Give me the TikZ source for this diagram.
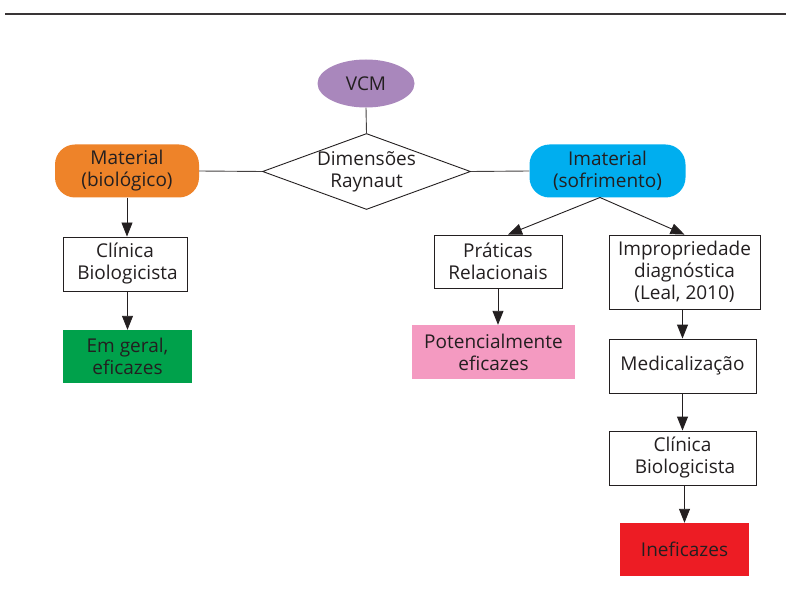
\documentclass[tikz,border=0pt]{standalone}
\usepackage{fontspec}
\setmainfont{Open Sans}
\usetikzlibrary{shapes.geometric,arrows.meta,calc}
\definecolor{ink}{HTML}{231F20}
\definecolor{cpurple}{HTML}{A987BC}
\definecolor{corange}{HTML}{EE8329}
\definecolor{ccyan}{HTML}{00AEEF}
\definecolor{cgreen}{HTML}{00A14B}
\definecolor{cpink}{HTML}{F49AC1}
\definecolor{cred}{HTML}{ED1C24}
\tikzset{
  txt/.style={font=\fontsize{19}{22}\selectfont, text=ink, align=center, inner sep=0pt},
  wbox/.style={txt, draw=ink, line width=0.9pt, fill=white},
  cbox/.style={txt},
  pill/.style={txt, rounded corners=20pt},
  conn/.style={draw=ink!85, line width=0.9pt},
  arr/.style={draw=ink, line width=0.9pt, -{Triangle[length=14pt,width=11pt]}},
}
\begin{document}
\begin{tikzpicture}[x=1pt,y=-1pt]
\useasboundingbox (0,0) rectangle (786,609);
\draw[draw=ink!90, line width=1.4pt] (5,14) -- (786,14);

\node[txt, ellipse, fill=cpurple, minimum width=97pt, minimum height=48pt] (vcm) at (366,83.5) {VCM};
\node[diamond, draw=ink, line width=0.9pt, fill=white, minimum width=208pt, minimum height=76pt, inner sep=0pt] (dim) at (366.5,171.5) {};
\node[txt] (dimtxt) at (366.5,171.5) {Dimensões\\Raynaut};
\node[pill, fill=corange, minimum width=144pt, minimum height=53pt] (mat) at (127,171) {Material\\(biológico)};
\node[pill, fill=ccyan, minimum width=156pt, minimum height=53pt] (imat) at (607.5,171) {Imaterial\\(sofrimento)};

\node[wbox, minimum width=124pt, minimum height=54pt] (clin1) at (125,264) {Clínica\\\ Biologicista};
\node[cbox, fill=cgreen, minimum width=129pt, minimum height=53pt] (geral) at (127.5,356.5) {Em geral,\\eficazes};

\node[wbox, minimum width=128pt, minimum height=53pt] (prat) at (498,261.5) {Práticas\\Relacionais};
\node[cbox, fill=cpink, minimum width=163pt, minimum height=54pt] (pot) at (493.5,352) {Potencialmente\\eficazes};

\node[wbox, minimum width=151pt, minimum height=74pt] (impr) at (684.5,272) {Impropriedade\\diagnóstica\\(Leal, 2010)};
\node[wbox, minimum width=147pt, minimum height=54pt] (med) at (682.5,366) {Medicalização};
\node[wbox, minimum width=147pt, minimum height=54pt] (clin2) at (682.5,458) {Clínica\\\ Biologicista};
\node[cbox, fill=cred, minimum width=129pt, minimum height=53pt] (inef) at (684.5,549.5) {Ineficazes};

\draw[conn] (vcm.south) -- (dim.north);
\draw[conn] (mat.east) -- (dim.west);
\draw[conn] (dim.east) -- (imat.west);
\draw[arr] (mat.south) -- (clin1.north -| mat.south);
\draw[arr] (clin1.south -| geral.north) -- (geral.north);
\coordinate (imb) at (600,197.5);
\draw[arr] (imb) -- ($(prat.north)+(10,0)$);
\draw[arr] (imb) -- (impr.north);
\draw[arr] (prat.south) -- (pot.north -| prat.south);
\draw[arr] (impr.south -| med.north) -- (med.north);
\draw[arr] (med.south) -- (clin2.north);
\draw[arr] (clin2.south -| inef.north) -- (inef.north);
\end{tikzpicture}
\end{document}
